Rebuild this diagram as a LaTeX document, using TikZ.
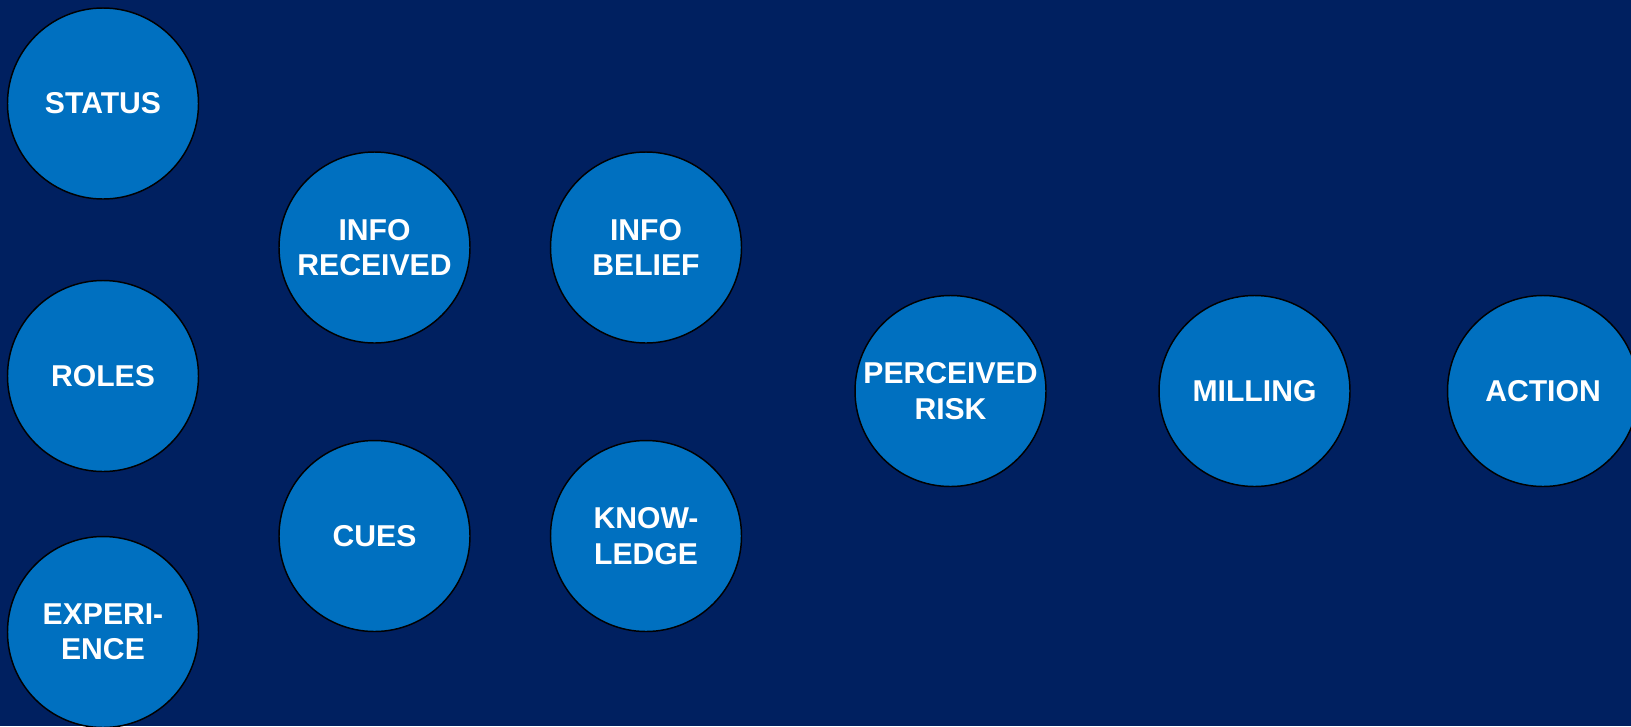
\documentclass[tikz,border=0pt]{standalone}
\usepackage{fontspec}
\setmainfont{Liberation Sans}
\definecolor{fondo}{RGB}{0,32,96}
\definecolor{azul}{RGB}{0,112,192}
\tikzset{
  circulo/.style={circle, draw=black, line width=1.1pt, fill=azul,
    minimum size=143.25pt, inner sep=0pt, align=center, text=white,
    font=\fontsize{22.6}{26.5}\selectfont\bfseries}
}
\begin{document}
\begin{tikzpicture}[x=0.75pt, y=-0.75pt]
        % Fondo
        \fill[fondo] (0,0) rectangle (1631,726);
        \useasboundingbox (0,0) rectangle (1631,726);

        % Círculos
        \node[circulo] (status) at (103,103.5) {STATUS};
        \node[circulo] (roles) at (103,376) {ROLES};
        \node[circulo] (experiencia) at (103,632) {EXPERI-\\ENCE};
        \node[circulo] (infoRecibida) at (374.5,247.5) {INFO\\RECEIVED};
        \node[circulo] (senales) at (374.5,536) {CUES};
        \node[circulo] (infoCreencia) at (646,247.5) {INFO\\BELIEF};
        \node[circulo] (conocimiento) at (646,536) {KNOW-\\LEDGE};
        \node[circulo] (riesgo) at (950.5,391) {PERCEIVED\\RISK};
        \node[circulo] (milling) at (1254.5,391) {MILLING};
        \node[circulo] (accion) at (1543,391) {ACTION};
    \end{tikzpicture}
\end{document}
